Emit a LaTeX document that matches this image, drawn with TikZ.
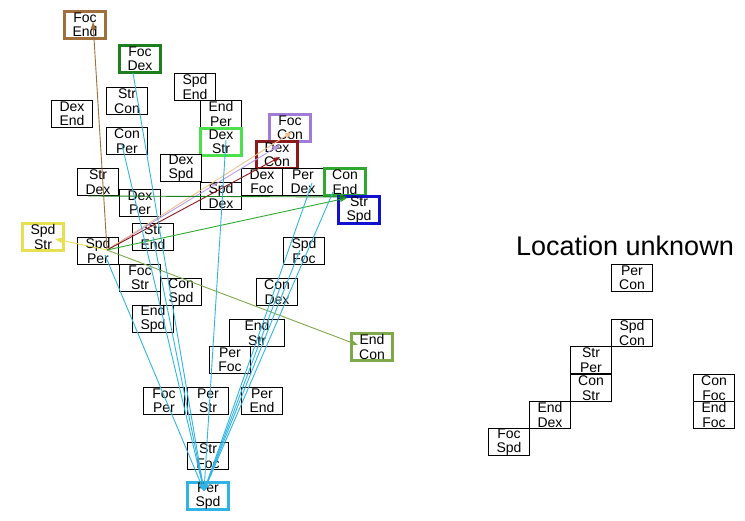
\documentclass[tikz,border=0pt]{standalone}
\usepackage{fontspec}
\setmainfont{Liberation Sans}
\usetikzlibrary{arrows.meta}
\definecolor{cbrown}{HTML}{A0703C}
\definecolor{cdkgreen}{HTML}{1E7F1E}
\definecolor{cltgreen}{HTML}{4CE04C}
\definecolor{cpurple}{HTML}{A07CD8}
\definecolor{cdkred}{HTML}{8B1A1A}
\definecolor{cgreen}{HTML}{2EA82E}
\definecolor{cblue}{HTML}{1010D0}
\definecolor{cyellow}{HTML}{E8E050}
\definecolor{colive}{HTML}{7FA84A}
\definecolor{ccyan}{HTML}{30B4E6}
\definecolor{cpeach}{HTML}{F0C090}
\definecolor{clav}{HTML}{B89AE6}
\begin{document}
\begin{tikzpicture}[x=1pt,y=-1pt,
  box/.style={draw=black, line width=1pt, fill=white, minimum width=41pt, minimum height=27pt,
    inner sep=0pt, align=center, font=\fontsize{14}{14.5}\selectfont},
  hbox/.style={box, line width=2.6pt, draw=#1},
  edge/.style={line width=0.9pt, draw=#1, -{Triangle[length=7pt,width=5pt]}, color=#1},
  lbl/.style={font=\fontsize{27}{30}\selectfont, inner sep=0pt}
]
\useasboundingbox (0,0) rectangle (745,521);
% nodes left cluster
\node[hbox=cbrown] (fe) at (85,25) {Foc\\End};
\node[hbox=cdkgreen] (fd) at (140,59) {Foc\\Dex};
\node[box] (se) at (195,87) {Spd\\End};
\node[box] (de) at (72,114) {Dex\\End};
\node[box] (sc) at (127,101) {Str\\Con};
\node[box] (ep) at (221,114) {End\\Per};
\node[box] (cp) at (127,141) {Con\\Per};
\node[hbox=cltgreen] (ds) at (221,142) {Dex\\Str};
\node[hbox=cpurple] (fc) at (290,128) {Foc\\Con};
\node[hbox=cdkred] (dc) at (277,155) {Dex\\Con};
\node[box] (dsp) at (181,168) {Dex\\Spd};
\node[box] (sd) at (98,182) {Str\\Dex};
\node[box] (df) at (262,182) {Dex\\Foc};
\node[box] (pd) at (303,182) {Per\\Dex};
\node[hbox=cgreen] (ce) at (345,182) {Con\\End};
\node[box] (sdx) at (221,196) {Spd\\Dex};
\node[box] (dp) at (140,203) {Dex\\Per};
\node[hbox=cblue] (ss) at (359,210) {Str\\Spd};
\node[hbox=cyellow] (sst) at (43,237) {Spd\\Str};
\node[box] (sen) at (153,237) {Str\\End};
\node[box] (sp) at (98,251) {Spd\\Per};
\node[box] (sf) at (304,251) {Spd\\Foc};
\node[box] (fs) at (140,278) {Foc\\Str};
\node[box] (cs) at (181,292) {Con\\Spd};
\node[box] (cd) at (277,292) {Con\\Dex};
\node[box] (esp) at (153,319) {End\\Spd};
\node[box, minimum width=55pt] (estr) at (257,333) {End\\Str};
\node[hbox=colive] (ec) at (372,347) {End\\Con};
\node[box] (pf) at (230,360) {Per\\Foc};
\node[box] (fp) at (164,401) {Foc\\Per};
\node[box] (pstr) at (208,401) {Per\\Str};
\node[box] (pe) at (262,401) {Per\\End};
\node[box] (sfo) at (208,456) {Str\\Foc};
\node[hbox=ccyan] (psp) at (208,496) {Per\\Spd};
% right side
\node[lbl, anchor=base] (loc) at (625,256) {Location unknown};
\node[box] (pc) at (632,278) {Per\\Con};
\node[box] (spc) at (632,333) {Spd\\Con};
\node[box] (stp) at (591,360) {Str\\Per};
\node[box] (cst) at (591,388) {Con\\Str};
\node[box] (ed) at (550,415) {End\\Dex};
\node[box] (fsp) at (509,442) {Foc\\Spd};
\node[box] (cf) at (714,388) {Con\\Foc};
\node[box] (ef) at (714,415) {End\\Foc};
% edges
\draw[edge=cbrown] ([shift={(9,-1)}]sp.center) -- ([shift={(8,-3)}]fe.center);
\draw[edge=clav] ([shift={(9,-1)}]sp.center) -- ([shift={(-10,17)}]fc.center);
\draw[edge=cpeach] ([shift={(9,-1)}]sp.center) -- ([shift={(2,4)}]fc.center);
\draw[edge=cdkred] ([shift={(9,-1)}]sp.center) -- ([shift={(3,2)}]dc.center);
\draw[edge=cgreen] ([shift={(9,-1)}]sp.center) -- ([shift={(2,16)}]ce.center);
\draw[edge=cdkgreen] ([shift={(-10,14)}]sd.center) -- ([shift={(2,15)}]ce.center);
\draw[edge=colive] ([shift={(9,-1)}]sp.center) -- ([shift={(-14,-2)}]ec.center);
\draw[edge=cyellow] ([shift={(9,-1)}]sp.center) -- ([shift={(12,2)}]sst.center);
\foreach \n/\dx/\dy in {fd/-7/14, cp/-5/4, ds/5/-2, sp/7/4, pd/9/1, ce/-12/10, sf/-4/-1, cd/3/-4, sen/0/0}
  \draw[edge=ccyan] ([shift={(\dx,\dy)}]\n.center) -- ([shift={(-4,-5)}]psp.center);
\end{tikzpicture}
\end{document}
